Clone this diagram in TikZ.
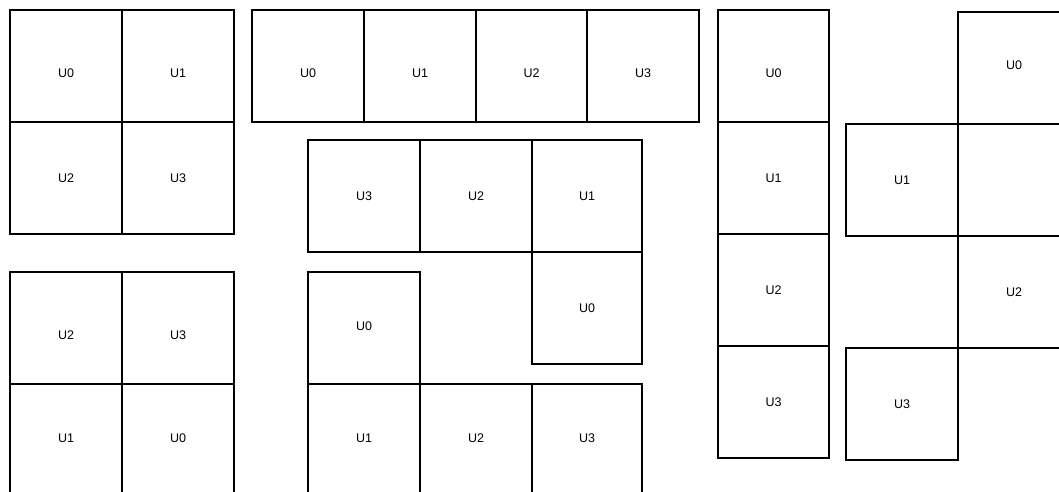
\documentclass[tikz,border=0pt]{standalone}
\usepackage{fontspec}
\setmainfont{Liberation Sans}
\begin{document}
\begin{tikzpicture}[x=1pt,y=-1pt,
  cell/.style={draw=black, line width=1.3pt, rectangle, inner sep=0pt,
    minimum width=112pt, minimum height=112pt,
    font=\fontsize{12.5}{14}\selectfont, text=black},
  lbl/.style={font=\fontsize{12.5}{14}\selectfont, text=black, inner sep=0pt},
  narrow/.style={minimum width=110pt}]
\useasboundingbox (0,0) rectangle (1059,492);
\clip (0,0) rectangle (1059,492);
% group A (top-left 2x2)
\node[cell, label={[lbl,yshift=-7pt]center:U0}] (a0) at (66,66) {};
\node[cell, label={[lbl,yshift=-7pt]center:U1}] (a1) at (178,66) {};
\node[cell] (a2) at (66,178) {U2};
\node[cell] (a3) at (178,178) {U3};
% group B (row of four)
\node[cell, label={[lbl,yshift=-7pt]center:U0}] (b0) at (308,66) {};
\node[cell, label={[lbl,yshift=-7pt]center:U1}] (b1) at (420,66) {};
\node[cell, minimum width=111pt, label={[lbl,yshift=-7pt]center:U2}] (b2) at (531.5,66) {};
\node[cell, label={[lbl,yshift=-7pt]center:U3}] (b3) at (643,66) {};
% group C (row of three with one below)
\node[cell] (c3) at (364,196) {U3};
\node[cell] (c2) at (476,196) {U2};
\node[cell, narrow] (c1) at (587,196) {U1};
\node[cell, narrow] (c0) at (587,308) {U0};
% group G (lower-left 2x2)
\node[cell, label={[lbl,yshift=-7pt]center:U2}] (g2) at (66,328) {};
\node[cell, label={[lbl,yshift=-7pt]center:U3}] (g3) at (178,328) {};
\node[cell, label={[lbl,yshift=2pt]center:U1}] (g1) at (66,440) {};
\node[cell, label={[lbl,yshift=2pt]center:U0}] (g0) at (178,440) {};
% group D (one on top of a row of three)
\node[cell, label={[lbl,yshift=2pt]center:U0}] (d0) at (364,328) {};
\node[cell, label={[lbl,yshift=2pt]center:U1}] (d1) at (364,440) {};
\node[cell, label={[lbl,yshift=2pt]center:U2}] (d2) at (476,440) {};
\node[cell, narrow, label={[lbl,yshift=2pt]center:U3}] (d3) at (587,440) {};
% group E (column of four)
\node[cell, minimum width=111pt, label={[lbl,yshift=-7pt]center:U0}] (e0) at (773.5,66) {};
\node[cell, minimum width=111pt] (e1) at (773.5,178) {U1};
\node[cell, minimum width=111pt] (e2) at (773.5,290) {U2};
\node[cell, minimum width=111pt] (e3) at (773.5,402) {U3};
% group F (zigzag)
\node[cell, label={[lbl,yshift=3pt]center:U0}] (f0) at (1014,68) {};
\node[cell] (fx) at (1014,180) {};
\node[cell] (f2) at (1014,292) {U2};
\node[cell] (f1) at (902,180) {U1};
\node[cell] (f3) at (902,404) {U3};
\end{tikzpicture}
\end{document}
